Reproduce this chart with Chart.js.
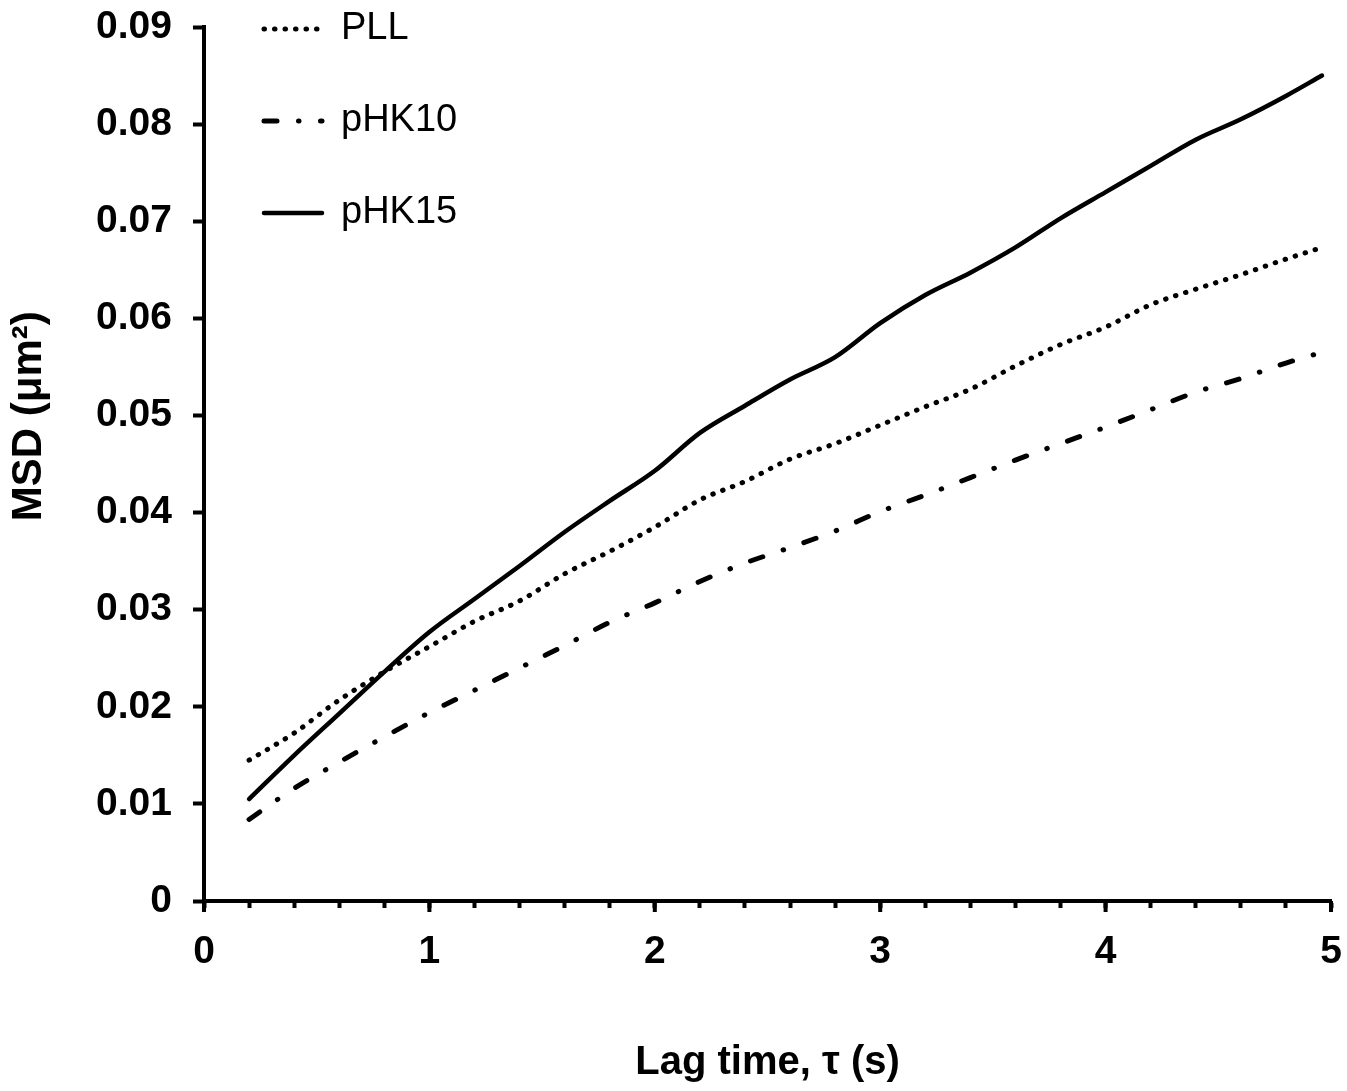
<!DOCTYPE html>
<html>
<head>
<meta charset="utf-8">
<script src="https://cdn.jsdelivr.net/npm/chart.js@4.4.0/dist/chart.umd.min.js"></script>
<style>
html,body{margin:0;padding:0;background:#fff;}
#wrap{width:1347px;height:1091px;position:relative;}
</style>
</head>
<body>
<div id="wrap"><canvas id="c"></canvas></div>
<script>
// ---- data ----
const lagTimes = [0.2,0.4,0.6,0.8,1.0,1.2,1.4,1.6,1.8,2.0,2.2,2.4,2.6,2.8,3.0,3.2,3.4,3.6,3.8,4.0,4.2,4.4,4.6,4.8,4.96];
const seriesLabels = ['PLL','pHK10','pHK15'];
const msdPLL   = [0.0145,0.0173,0.0207,0.0236,0.0262,0.0288,0.0309,0.0337,0.0360,0.0385,0.0413,0.0432,0.0455,0.0471,0.0490,0.0509,0.0527,0.0551,0.0573,0.0591,0.0614,0.0630,0.0645,0.0661,0.0673];
const msdPHK10 = [0.0084,0.0116,0.0143,0.0169,0.0194,0.0217,0.0240,0.0263,0.0287,0.0307,0.0329,0.0348,0.0364,0.0381,0.0401,0.0418,0.0436,0.0454,0.0471,0.0488,0.0506,0.0524,0.0538,0.0554,0.0565];
const msdPHK15 = [0.0105,0.0150,0.0193,0.0236,0.0277,0.0311,0.0345,0.0380,0.0412,0.0443,0.0482,0.0510,0.0537,0.0560,0.0595,0.0624,0.0647,0.0673,0.0703,0.0730,0.0757,0.0784,0.0805,0.0829,0.0850];
const xTickLabels = ['0','1','2','3','4','5'];
const yTickLabels = ['0','0.01','0.02','0.03','0.04','0.05','0.06','0.07','0.08','0.09'];
const xTitle = 'Lag time, τ (s)';
const yTitle = 'MSD (μm²)';

const FONT = '"Liberation Sans", Arial, Helvetica, sans-serif';

function toPoints(ys){ return lagTimes.map((t,i)=>({x:t,y:ys[i]})); }

const LEG_PAD = 54;
const legendPlacer = {
  id:'legendPlacer',
  afterLayout(chart){
    const lg = chart.legend;
    if(!lg) return;
    lg.left = 264 - LEG_PAD; lg.top = 29 - 19 - LEG_PAD;
    lg.right = lg.left + 500; lg.bottom = lg.top + 500;
  }
};

const majorTicks = {
  id:'majorTicks',
  afterDraw(chart){
    const xs = chart.scales.x, ctx = chart.ctx;
    ctx.save();
    ctx.strokeStyle = '#000'; ctx.lineWidth = 4;
    xTickLabels.forEach(l=>{
      const px = xs.getPixelForValue(Number(l));
      ctx.beginPath(); ctx.moveTo(px, xs.top); ctx.lineTo(px, xs.top + 11); ctx.stroke();
    });
    ctx.restore();
  }
};

new Chart(document.getElementById('c'), {
  type:'line',
  data:{
    datasets:[
      {label:seriesLabels[0], data:toPoints(msdPLL), borderColor:'#000', backgroundColor:'#000', borderWidth:5, borderDash:[0.5,10], borderCapStyle:'round', pointRadius:0, cubicInterpolationMode:'monotone', fill:false},
      {label:seriesLabels[1], data:toPoints(msdPHK10), borderColor:'#000', backgroundColor:'#000', borderWidth:5, borderDash:[13,21.5,0.5,21.5], borderCapStyle:'round', pointRadius:0, cubicInterpolationMode:'monotone', fill:false},
      {label:seriesLabels[2], data:toPoints(msdPHK15), borderColor:'#000', backgroundColor:'#000', borderWidth:4.5, borderCapStyle:'round', pointRadius:0, cubicInterpolationMode:'monotone', fill:false}
    ]
  },
  options:{
    responsive:true, maintainAspectRatio:false, animation:false,
    layout:{padding:{top:27,right:16,bottom:0,left:0}},
    plugins:{
      tooltip:{enabled:false},
      legend:{
        position:'chartArea', align:'start',
        labels:{usePointStyle:true, pointStyle:'line', pointStyleWidth:58, color:'#000', padding:LEG_PAD,
          font:{family:FONT, size:38, weight:'normal'},
          generateLabels(chart){
            const items = Chart.defaults.plugins.legend.labels.generateLabels(chart);
            return items.map(it=>{
              const ds = chart.data.datasets[it.datasetIndex];
              return Object.assign(it, {lineDash: ds.borderDash || [], lineWidth: ds.borderWidth, lineCap: ds.borderCapStyle, strokeStyle: ds.borderColor, pointStyle:'line'});
            });
          }}
      }
    },
    scales:{
      x:{
        type:'linear', min:0, max:5,
        afterFit(s){ s.height = 190; s.paddingLeft = 0; s.paddingRight = 0; },
        grid:{display:true, drawOnChartArea:false, drawTicks:true, tickLength:7, tickWidth:4, tickColor:'#000'},
        border:{display:true, width:4, color:'#000'},
        ticks:{stepSize:0.2, autoSkip:false, maxRotation:0, color:'#000', padding:21,
          font:{family:FONT, size:39, weight:'bold'},
          callback(v){ const i = xTickLabels.indexOf(String(Math.round(v))); return (Math.abs(v-Math.round(v))<1e-6 && i>=0) ? xTickLabels[i] : ''; }},
        title:{display:true, text:xTitle, color:'#000', font:{family:FONT, size:40, weight:'bold'}, padding:{top:0,bottom:4}}
      },
      y:{
        type:'linear', min:0, max:0.09,
        afterFit(s){ s.width = 204; s.paddingTop = 0; s.paddingBottom = 0; },
        grid:{display:true, drawOnChartArea:false, drawTicks:true, tickLength:11, tickWidth:4, tickColor:'#000'},
        border:{display:true, width:4, color:'#000'},
        ticks:{stepSize:0.01, color:'#000', padding:21,
          font:{family:FONT, size:39, weight:'bold'},
          callback(v){ const i = Math.round(v*100); return yTickLabels[i] !== undefined ? yTickLabels[i] : ''; }},
        title:{display:true, text:'\u2003\u2003 ' + yTitle, color:'#000', font:{family:FONT, size:42, weight:'bold'}, padding:{top:4,bottom:0}}
      }
    }
  },
  plugins:[legendPlacer, majorTicks]
});
</script>
</body>
</html>
